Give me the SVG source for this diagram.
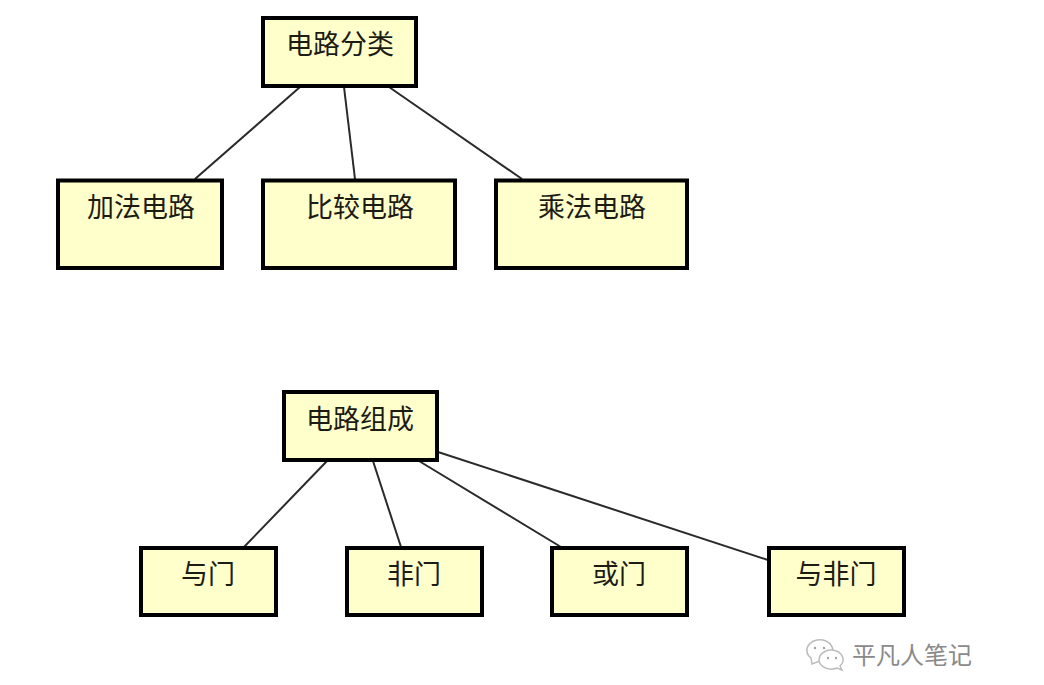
<svg xmlns="http://www.w3.org/2000/svg" width="1044" height="685" viewBox="0 0 1044 685">
  <style>
    .box { fill: #ffffcc; stroke: #000; stroke-width: 4; }
    .lbl { font-family: "Liberation Sans", "Noto Sans CJK SC", sans-serif; font-size: 27px; fill: #1c1c14; text-anchor: middle; }
    .wire { stroke: #2a2a2a; stroke-width: 2; fill: none; }
    .mark { font-family: "Noto Sans CJK SC", sans-serif; font-size: 24px; fill: #8a8a8a; }
    .bubble { fill: #fff; stroke: #bcbcbc; stroke-width: 1.5; }
    .eye { fill: #a0a0a0; }
  </style>
  <rect width="1044" height="685" fill="#fff"/>

  <g id="connectors">
    <line class="wire" x1="300" y1="87" x2="195" y2="179"/>
    <line class="wire" x1="344" y1="87" x2="355" y2="179"/>
    <line class="wire" x1="389" y1="87" x2="522" y2="179"/>
    <line class="wire" x1="327" y1="461" x2="244" y2="547"/>
    <line class="wire" x1="373" y1="461" x2="401" y2="547"/>
    <line class="wire" x1="419" y1="461" x2="561" y2="547"/>
    <line class="wire" x1="438" y1="452" x2="768" y2="560"/>
  </g>

  <g id="root-classify">
    <rect class="box" x="263" y="18" width="153" height="68"/>
    <text class="lbl" x="340" y="54">电路分类</text>
  </g>
  <g id="adder">
    <rect class="box" x="58" y="180.500" width="164" height="87.500"/>
    <text class="lbl" x="141" y="217">加法电路</text>
  </g>
  <g id="comparator">
    <rect class="box" x="263" y="180.500" width="192" height="87.500"/>
    <text class="lbl" x="360" y="217">比较电路</text>
  </g>
  <g id="multiplier">
    <rect class="box" x="496" y="180.500" width="191" height="87.500"/>
    <text class="lbl" x="592" y="217">乘法电路</text>
  </g>

  <g id="root-compose">
    <rect class="box" x="284" y="392" width="153" height="68"/>
    <text class="lbl" x="360" y="429">电路组成</text>
  </g>
  <g id="and-gate">
    <rect class="box" x="141" y="548" width="135" height="67"/>
    <text class="lbl" x="208" y="584">与门</text>
  </g>
  <g id="not-gate">
    <rect class="box" x="347" y="548" width="135" height="67"/>
    <text class="lbl" x="414" y="584">非门</text>
  </g>
  <g id="or-gate">
    <rect class="box" x="552" y="548" width="135" height="67"/>
    <text class="lbl" x="619" y="584">或门</text>
  </g>
  <g id="nand-gate">
    <rect class="box" x="769" y="548" width="135" height="67"/>
    <text class="lbl" x="836" y="584">与非门</text>
  </g>

  <g id="signature">
    <path class="bubble" d="M812 664 L811 658 A13 10.500 0 1 1 832 654 A13 10.500 0 0 0 820 661 L812 664 Z"/>
    <path class="bubble" d="M842 670 L840 666 A12 9.500 0 1 0 833 669 A12 9.500 0 0 0 837 668 Z"/>
    <circle class="eye" cx="815" cy="648" r="1.200"/>
    <circle class="eye" cx="824" cy="648" r="1.200"/>
    <circle class="eye" cx="828" cy="658" r="1.200"/>
    <circle class="eye" cx="836" cy="658" r="1.200"/>
    <text class="mark" x="852" y="664">平凡人笔记</text>
  </g>
</svg>
